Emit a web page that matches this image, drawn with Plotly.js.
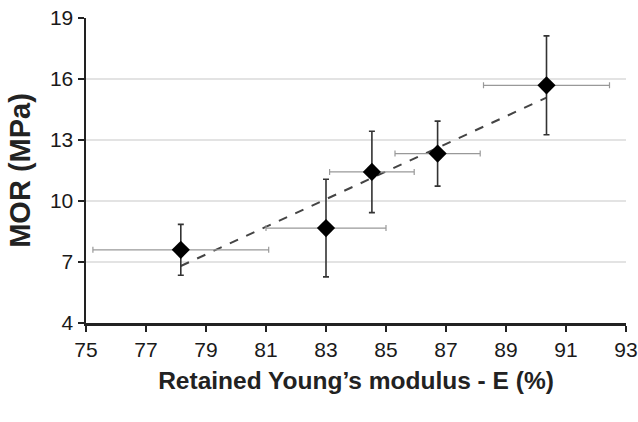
<!DOCTYPE html>
<html><head><meta charset="utf-8">
<script src="https://cdn.plot.ly/plotly-3.0.1.min.js"></script>
<style>html,body{margin:0;padding:0;background:#fff}#chart{width:638px;height:422px}</style>
</head><body><div id="chart"></div>
<script>
const modulusE = [78.16, 83.0, 84.53, 86.72, 90.35];
const modulusErr = [2.93, 2.0, 1.41, 1.42, 2.1];
const mor = [7.6, 8.67, 11.43, 12.33, 15.69];
const morErr = [1.25, 2.4, 2.0, 1.6, 2.43];
const xTicks = [75, 77, 79, 81, 83, 85, 87, 89, 91, 93];
const yTicks = [4, 7, 10, 13, 16, 19];

// linear least-squares trend line from the data
const n = modulusE.length;
const mx = modulusE.reduce((a,b)=>a+b,0)/n, my = mor.reduce((a,b)=>a+b,0)/n;
let sxy=0, sxx=0;
for (let i=0;i<n;i++){sxy+=(modulusE[i]-mx)*(mor[i]-my); sxx+=(modulusE[i]-mx)**2;}
const slope = sxy/sxx, icpt = my - slope*mx;
const tx = [Math.min(...modulusE), Math.max(...modulusE)];
const ty = tx.map(v=>icpt+slope*v);

const traces = [
  {x: tx, y: ty, mode:'lines', line:{color:'#444', width:2, dash:'dash'}, hoverinfo:'skip'},
  {x: modulusE, y: mor, mode:'markers', type:'scatter',
   marker:{symbol:'diamond', size:14, color:'#000'},
   error_y:{type:'data', array: morErr, visible:true, color:'#333', thickness:1.6, width:3},
   error_x:{type:'data', array: modulusErr, visible:true, color:'#999', thickness:1.2, width:3}}
];
const ff = '"Liberation Sans", Arial, sans-serif';
const layout = {
  width:638, height:422, showlegend:false,
  margin:{l:86, r:12, t:18, b:99},
  paper_bgcolor:'#fff', plot_bgcolor:'#fff',
  font: {family: ff, color:'#1a1a1a'},
  xaxis:{range:[75,93], tickvals:xTicks, ticks:'outside', ticklen:6, tickwidth:2, tickcolor:'#222',
    showline:true, linecolor:'#222', linewidth:2.5, showgrid:false, zeroline:false, automargin:false,
    tickfont:{size:21, family:ff, color:'#1a1a1a'},
    title:{text:'<b>Retained Young’s modulus - E (%)</b>', font:{size:24.5, family:ff, color:'#222'}, standoff:12}},
  yaxis:{range:[4,19], tickvals:yTicks, ticks:'outside', ticklen:6, tickwidth:2, tickcolor:'#222',
    showline:true, linecolor:'#222', linewidth:2.5, showgrid:true, gridcolor:'#e3e3e3', gridwidth:1.5, zeroline:false,
    tickfont:{size:21, family:ff, color:'#1a1a1a'},
    title:{text:'<b>MOR (MPa)</b>', font:{size:29, family:ff, color:'#222'}, standoff:11}}
};
Plotly.newPlot('chart', traces, layout, {staticPlot:true});
</script></body></html>
